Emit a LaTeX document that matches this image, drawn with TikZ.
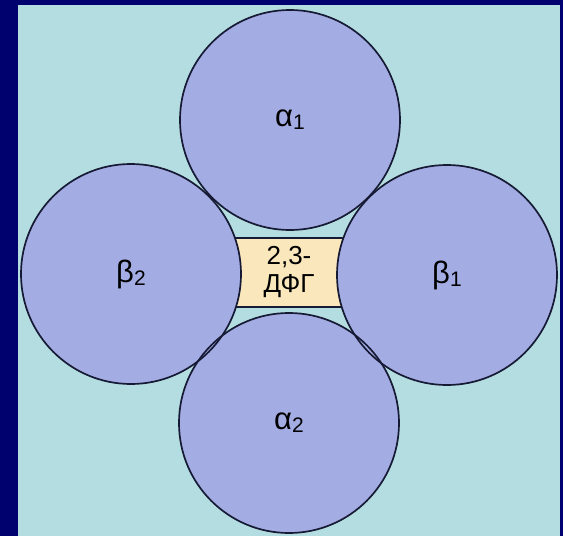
\documentclass[tikz,border=0pt]{standalone}
\usepackage{fontspec}
\setmainfont{Liberation Sans}
\definecolor{navy}{RGB}{0,0,110}
\definecolor{bgcyan}{RGB}{180,221,225}
\definecolor{circfill}{RGB}{163,173,228}
\definecolor{cream}{RGB}{250,232,188}
\definecolor{edge}{RGB}{22,26,52}
\tikzset{
  subunit/.style={circle, fill=circfill, minimum size=220pt, inner sep=0pt,
    font=\fontsize{31}{34}\selectfont},
  outline/.style={draw=edge, line width=1.7pt},
  dpgbox/.style={rectangle, fill=cream, draw=edge, line width=1.5pt,
    minimum width=180pt, minimum height=69pt, inner sep=0pt, align=center,
    font=\fontsize{26}{28}\selectfont}
}
\newcommand{\sbs}[1]{\raisebox{-3pt}{\fontsize{21}{24}\selectfont #1}}
\begin{document}
\begin{tikzpicture}[x=1pt,y=-1pt]
  \useasboundingbox (0,0) rectangle (563,536);
  \fill[navy] (0,0) rectangle (563,536);
  \fill[bgcyan] (18,5) rectangle (560,536);
  % central 2,3-DPG box (behind the subunits)
  \node[dpgbox] (dpg) at (289,272.5) {2,3-\\ДФГ};
  % subunits
  \node[subunit] (a1) at (290,120) {α\sbs{1}};
  \node[subunit] (b2) at (131,274) {β\sbs{2}};
  \node[subunit] (b1) at (447,275) {β\sbs{1}};
  \node[subunit] (a2) at (289,423) {α\sbs{2}};
  % outlines drawn on top so every edge stays visible
  \foreach \n in {a1,b2,b1,a2}
    \draw[outline] (\n.center) circle[radius=110];
\end{tikzpicture}
\end{document}
